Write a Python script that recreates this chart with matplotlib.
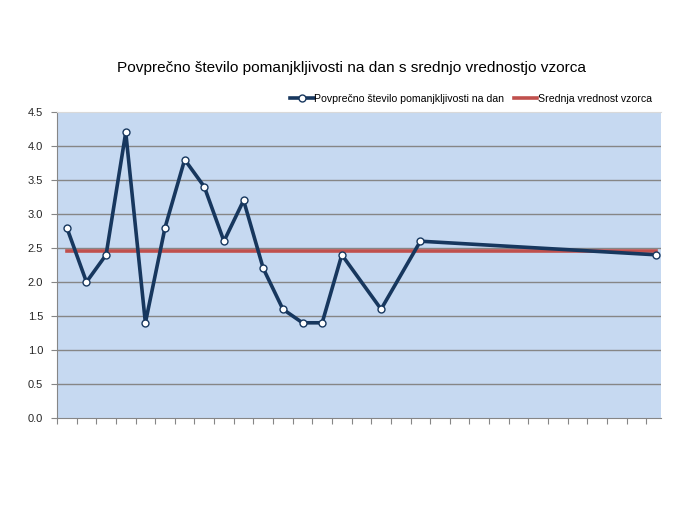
import matplotlib
matplotlib.use("Agg")
import matplotlib.pyplot as plt
import numpy as np

plt.rcParams['font.family'] = ['Liberation Sans', 'DejaVu Sans']

# podatki (prazna mesta = ni meritve)
povprecje = [2.8, 2.0, 2.4, 4.2, 1.4, 2.8, 3.8, 3.4, 2.6, 3.2, 2.2, 1.6, 1.4, 1.4, 2.4,
             None, 1.6, None, 2.6,
             None, None, None, None, None, None, None, None, None, None, None,
             2.4]
srednja_vrednost = 2.45
y_ticks = [0.0, 0.5, 1.0, 1.5, 2.0, 2.5, 3.0, 3.5, 4.0, 4.5]

naslov = "Povprečno število pomanjkljivosti na dan s srednjo vrednostjo vzorca"
leg1 = "Povprečno število pomanjkljivosti na dan"
leg2 = "Srednja vrednost vzorca"

x = np.arange(len(povprecje))
y = np.array([np.nan if v is None else v for v in povprecje])
ok = ~np.isnan(y)

fig = plt.figure(figsize=(6.75, 5.2), dpi=100)
ax = fig.add_axes([57/675, 1-418/520, (661-57)/675, (418-112)/520])
ax.set_facecolor('#C6D9F1')

for yt in y_ticks[1:-1]:
    ax.axhline(yt, color='#868686', lw=1.0, zorder=1)

l1, = ax.plot(x[ok], y[ok], color='#17375E', lw=2.6, marker='o', ms=5,
              mfc='white', mec='#17375E', mew=1.0, zorder=4, label=leg1)
l2, = ax.plot(x, [srednja_vrednost]*len(x), color='#C0504D', lw=2.6, zorder=3, label=leg2)

ax.set_xlim(-0.5, 30.25)
ax.set_ylim(0, 4.5)
ax.set_yticks(y_ticks)
ax.set_yticklabels([f"{v:.1f}" for v in y_ticks])
ax.set_xticks(np.arange(-0.5, 30, 1))
ax.set_xticklabels([])
ax.tick_params(axis='y', length=4, color='#868686', labelsize=8, labelcolor='#262626', pad=6)
ax.tick_params(axis='x', length=4, color='#868686', direction='out')

ax.spines['top'].set_color('#D9D9D9')
ax.spines['right'].set_visible(False)
ax.spines['left'].set_color('#868686')
ax.spines['bottom'].set_color('#868686')

fig.text(352/675, 1-68/520, naslov, ha='center', va='center', fontsize=11.1, color='black')

fig.legend(handles=[l1, l2], loc='center right', bbox_to_anchor=(652/675, 1-99/520),
           ncol=2, frameon=False, fontsize=7.6, handlelength=2.2, handletextpad=0.05,
           columnspacing=0.95, borderpad=0, borderaxespad=0)

fig.savefig("out.png", dpi=100)
